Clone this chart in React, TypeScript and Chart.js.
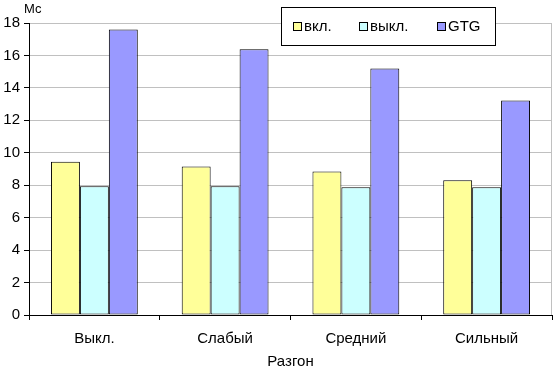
import React, { useEffect, useRef } from "react";
import { Chart, registerables } from "chart.js";

Chart.register(...registerables);

const categories = ["Выкл.", "Слабый", "Средний", "Сильный"];
const seriesNames = ["вкл.", "выкл.", "GTG"];
const vklValues = [9.45, 9.15, 8.85, 8.3];
const vyklValues = [7.93, 7.93, 7.88, 7.88];
const gtgValues = [17.6, 16.38, 15.2, 13.22];
const seriesColors = ["#FFFF99", "#CCFFFF", "#9999FF"];
const yUnit = "Мс";
const xTitle = "Разгон";

const FONT = "'Liberation Sans', Arial, sans-serif";

const extrasPlugin = {
  id: "extras",
  afterDraw(chart: any) {
    const ctx = chart.ctx;
    const area = chart.chartArea;
    ctx.save();
    // right border of plot area
    ctx.strokeStyle = "#c0c0c0";
    ctx.lineWidth = 1;
    ctx.beginPath();
    ctx.moveTo(Math.round(area.right) - 0.5, area.top);
    ctx.lineTo(Math.round(area.right) - 0.5, area.bottom);
    ctx.stroke();
    // unit label
    ctx.fillStyle = "#000";
    ctx.font = `13px ${FONT}`;
    ctx.textAlign = "left";
    ctx.textBaseline = "alphabetic";
    ctx.fillText(yUnit, 24, 13);
    // legend
    const bx = 281.5, by = 7.5, bw = 214, bh = 38;
    ctx.fillStyle = "#fff";
    ctx.fillRect(bx, by, bw, bh);
    ctx.strokeStyle = "#000";
    ctx.strokeRect(bx, by, bw, bh);
    const sqX = [293, 359, 437];
    ctx.font = `15px ${FONT}`;
    seriesNames.forEach((name, i) => {
      ctx.fillStyle = seriesColors[i];
      ctx.fillRect(sqX[i] + 0.5, 22.5, 8, 8);
      ctx.strokeStyle = "#000";
      ctx.strokeRect(sqX[i] + 0.5, 22.5, 8, 8);
      ctx.fillStyle = "#000";
      ctx.textBaseline = "alphabetic";
      ctx.fillText(name, sqX[i] + 11, 31);
    });
    ctx.restore();
  },
};

export default function App() {
  const ref = useRef<HTMLCanvasElement>(null);
  useEffect(() => {
    if (!ref.current) return;
    const chart = new Chart(ref.current, {
      type: "bar",
      data: {
        labels: categories,
        datasets: [vklValues, vyklValues, gtgValues].map((d, i) => ({
          label: seriesNames[i],
          data: d,
          backgroundColor: seriesColors[i],
          borderColor: "#000",
          borderWidth: 1,
          borderSkipped: false,
          categoryPercentage: 0.664,
          barPercentage: 1,
        })),
      },
      options: {
        animation: false,
        responsive: false,
        maintainAspectRatio: false,
        layout: { padding: { top: 23, right: 1, left: 0, bottom: 0 } },
        plugins: { legend: { display: false }, tooltip: { enabled: false }, title: { display: false } },
        scales: {
          x: {
            grid: {
              offset: true,
              drawOnChartArea: false,
              tickLength: 5,
              tickColor: "#000",
              color: "#000",
            },
            border: { color: "#000", width: 1 },
            ticks: { color: "#000", font: { family: FONT, size: 15 }, padding: 10 },
            title: {
              display: true,
              text: xTitle,
              color: "#000",
              font: { family: FONT, size: 15 },
              padding: { top: 8, bottom: 0 },
            },
            afterFit(scale: any) {
              scale.height = 56;
            },
          },
          y: {
            min: 0,
            max: 18,
            ticks: { stepSize: 2, color: "#000", font: { family: FONT, size: 15 }, padding: 4 },
            grid: { color: "#c0c0c0", tickColor: "#000", tickLength: 5 },
            border: { color: "#000", width: 1 },
            afterFit(scale: any) {
              scale.width = 29;
            },
          },
        },
      },
      plugins: [extrasPlugin],
    });
    return () => chart.destroy();
  }, []);
  return (
    <div style={{ position: "fixed", left: 0, top: 0, width: 553, height: 371, background: "#fff" }}>
      <canvas ref={ref} width={553} height={371} style={{ display: "block" }} />
    </div>
  );
}
